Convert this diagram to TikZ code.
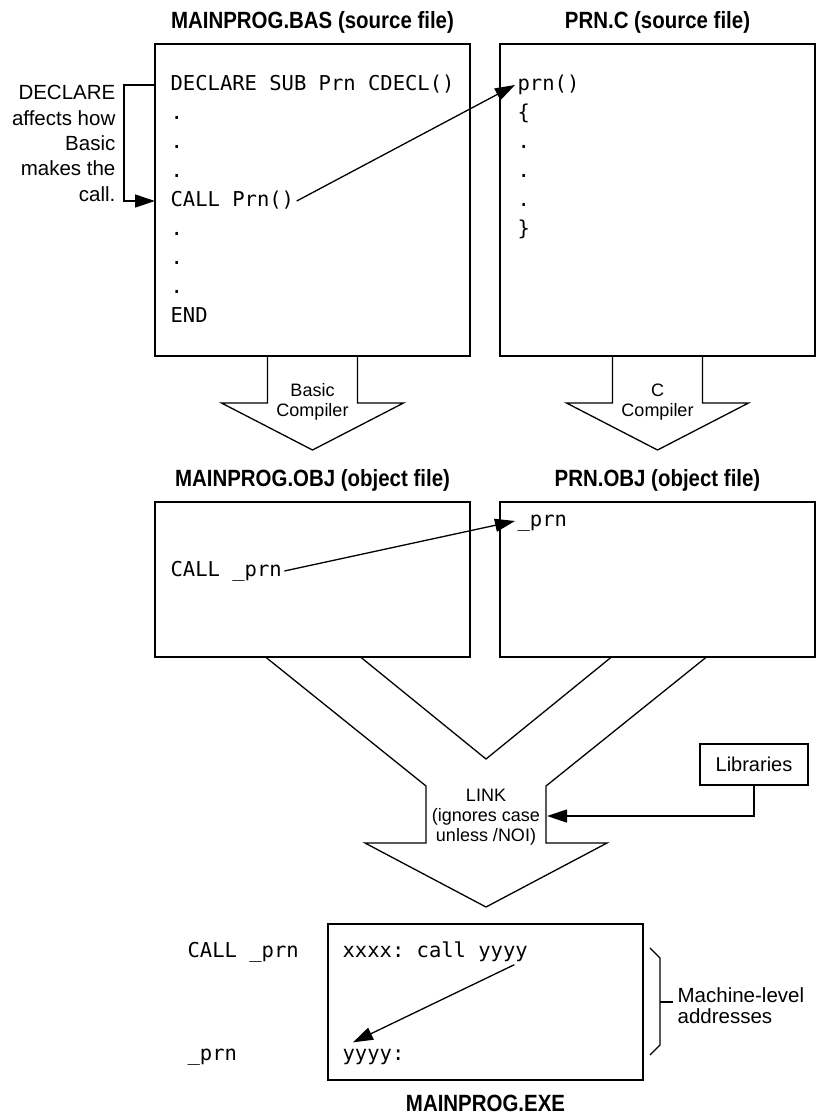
\documentclass[tikz,border=0pt]{standalone}
\usepackage{fontspec}
\setmainfont{Liberation Sans}
\setmonofont{DejaVu Sans Mono}
\newfontfamily\titlefont{Liberation Sans}[FakeStretch=0.87]
\usetikzlibrary{calc,positioning,arrows.meta}

\begin{document}
\begin{tikzpicture}[x=1pt, y=-1pt,
            >={Triangle[length=20pt,width=13pt]},
            line width=1.3pt,
            filebox/.style = {draw, line width=1.5pt, inner sep=0pt, outer sep=0pt},
            filetitle/.style = {font=\titlefont\bfseries\fontsize{23.5}{28}\selectfont, inner sep=0pt},
            code/.style = {font=\ttfamily\fontsize{20.5}{24}\selectfont, anchor=base west,
                    inner sep=2pt, text height=15pt, text depth=5pt},
            note/.style = {font=\fontsize{18}{20}\selectfont, align=center, inner sep=0pt},
        ]
        \useasboundingbox (0,0) rectangle (816,1119);

        % source files
        \node[filebox, minimum width=315, minimum height=312] (bas) at (312.5,200) {};
        \node[filebox, minimum width=315, minimum height=312] (prnc) at (657.5,200) {};
        \node[filetitle, above=10pt of bas] (bas-t) {MAINPROG.BAS (source file)};
        \node[filetitle, above=10pt of prnc] (prnc-t) {PRN.C (source file)};

        \foreach \t [count=\i] in {DECLARE SUB Prn CDECL(), ., ., ., CALL Prn(), ., ., ., END}
            \node[code] (b\i) at (168, 61+29*\i) {\t};
        \foreach \t [count=\i] in {prn(), \{, ., ., ., \}}
            \node[code] (c\i) at (515, 61+29*\i) {\t};

        \draw[->] (b5.east) -- (c1.west);

        \node[anchor=north east, align=right, inner sep=0pt,
            font=\fontsize{20.5}{25.3}\selectfont] (decl) at (116,85)
            {DECLARE\\affects how\\Basic\\makes the\\call.};
        \draw[->] (bas.west |- b1) -- ++(-31,0) |- (bas.west |- b5);

        % compilers
        \foreach \b/\n in {bas/Basic, prnc/C}
            {
                \draw (\b.south) ++(-45,0) -- ++(0,47) -- ++(-46,0) -- ++(91,47)
                    -- ++(91,-47) -- ++(-46,0) -- ++(0,-47);
                \node[note] (\b-comp) at ($(\b.south)+(0,46)$) {\n\\Compiler};
            }

        % object files
        \node[filebox, minimum width=315, minimum height=155] (basobj) at (312.5,579.5) {};
        \node[filebox, minimum width=315, minimum height=155] (prnobj) at (657.5,579.5) {};
        \node[filetitle, above=10pt of basobj] (basobj-t) {MAINPROG.OBJ (object file)};
        \node[filetitle, above=10pt of prnobj] (prnobj-t) {PRN.OBJ (object file)};

        \node[code] (o1) at (168,576) {CALL \_prn};
        \node[code] (p1) at (515,526) {\_prn};
        \draw[->] (o1.east) -- (p1.west);

        % link
        \draw ($(basobj.south)+(-47,0)$) -- (426,786) -- (426,843) -- (365,843) -- (486,907)
            -- (607,843) -- (546,843) -- (546,786) -- ($(prnobj.south)+(49,0)$);
        \draw ($(basobj.south)+(48,0)$) -- (486,759) -- ($(prnobj.south)+(-46,0)$);
        \node[note] (link) at (486,817) {LINK\\(ignores case\\unless /NOI)};

        \node[filebox, minimum width=108, minimum height=41,
            font=\fontsize{20}{24}\selectfont] (libs) at (754,764.5) {Libraries};
        \coordinate (link-in) at (547,816);
        \draw[->] (libs.south) |- (link-in);

        % executable
        \node[filebox, minimum width=315, minimum height=156] (exe) at (485.5,1002) {};
        \node[filetitle, below=14pt of exe] (exe-t) {MAINPROG.EXE};

        \node[code] (e1) at (340,957) {xxxx: call yyyy};
        \node[code] (e2) at (340,1060) {yyyy:};
        \node[code] (s1) at (185,957) {CALL \_prn};
        \node[code] (s2) at (185,1060) {\_prn};
        \draw[->] ([xshift=-16pt]e1.south east) -- ([xshift=13pt]e2.north west);

        \draw ($(exe.east)+(7,-54)$) -- ++(10,10) -- ++(0,87) -- ++(-10,10);
        \draw ($(exe.east)+(17,0)$) -- ++(13,0)
            node[anchor=west, align=left, inner sep=4pt, yshift=-4pt,
                font=\fontsize{20.5}{21}\selectfont] (mach) {Machine-level\\addresses};
    \end{tikzpicture}
\end{document}
